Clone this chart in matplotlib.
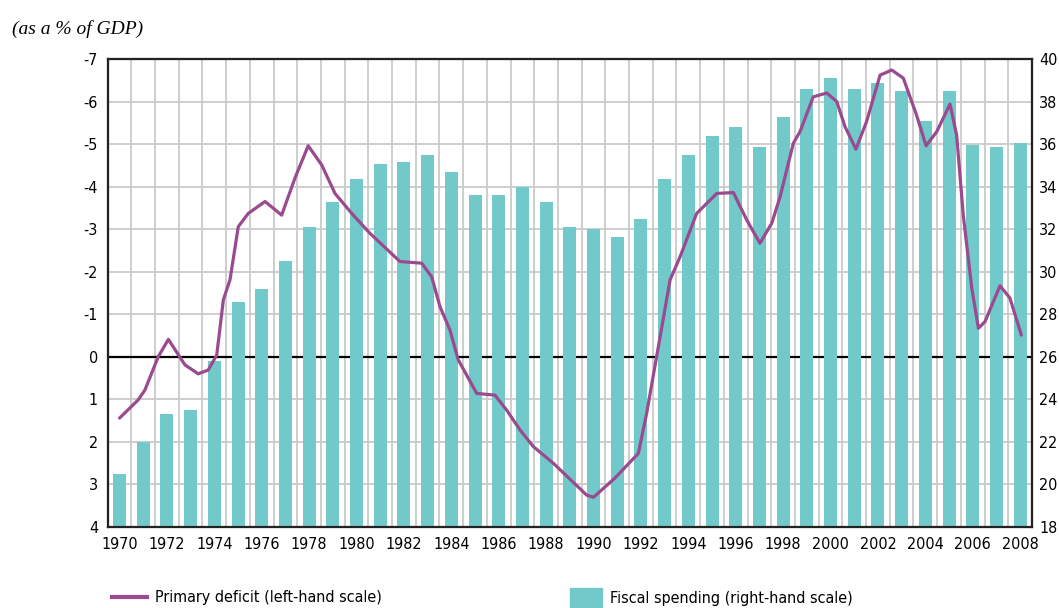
import matplotlib
matplotlib.use('Agg')
import matplotlib.pyplot as plt
from matplotlib.patches import Patch
from matplotlib.lines import Line2D
from matplotlib import font_manager
import numpy as np

years = list(range(1970, 2009))
spending = [20.5, 22.0, 23.3, 23.5, 25.8, 28.6, 29.2, 30.5, 32.1, 33.3,
            34.35, 35.05, 35.15, 35.5, 34.7, 33.6, 33.6, 34.0, 33.3, 32.1,
            32.0, 31.65, 32.5, 34.35, 35.5, 36.4, 36.8, 35.85, 37.25, 38.6,
            39.1, 38.6, 38.85, 38.5, 37.1, 38.5, 35.95, 35.85, 36.05]

# primary deficit curve (fractional year, % of GDP)
deficit_t = [1970.00, 1970.79, 1971.07, 1971.63, 1972.06, 1972.76, 1973.32, 1973.74,
             1974.10, 1974.38, 1974.66, 1975.01, 1975.43, 1976.14, 1976.84, 1977.40,
             1977.96, 1978.53, 1979.09, 1979.30, 1979.86, 1980.57, 1981.83, 1982.75,
             1983.17, 1983.52, 1983.94, 1984.29, 1985.07, 1985.84, 1986.33, 1986.90,
             1987.46, 1988.30, 1989.71, 1990.00, 1990.90, 1991.89, 1992.24, 1992.66,
             1993.23, 1993.65, 1994.35, 1995.20, 1995.90, 1996.46, 1997.02, 1997.52,
             1997.87, 1998.43, 1998.71, 1999.27, 1999.84, 2000.26, 2000.61, 2001.07,
             2001.52, 2002.09, 2002.58, 2003.07, 2003.63, 2004.03, 2004.48, 2005.04,
             2005.32, 2005.60, 2005.96, 2006.24, 2006.52, 2007.15, 2007.57, 2008.05]
deficit_v = [1.44, 1.01, 0.78, 0.00, -0.41, 0.19, 0.40, 0.31,
             -0.04, -1.34, -1.81, -3.06, -3.37, -3.65, -3.33, -4.20,
             -4.96, -4.51, -3.84, -3.70, -3.33, -2.90, -2.24, -2.20,
             -1.88, -1.18, -0.63, 0.07, 0.86, 0.90, 1.25, 1.72,
             2.11, 2.50, 3.25, 3.30, 2.85, 2.27, 1.33, 0.00,
             -1.81, -2.35, -3.37, -3.84, -3.86, -3.22, -2.67, -3.14,
             -3.76, -5.02, -5.29, -6.11, -6.20, -6.00, -5.41, -4.88,
             -5.53, -6.62, -6.74, -6.55, -5.68, -4.96, -5.29, -5.94,
             -5.21, -3.33, -1.61, -0.67, -0.83, -1.67, -1.38, -0.51]

left_ticks = list(range(-7, 5))
right_ticks = list(range(18, 41, 2))
year_labels = years[::2]

bar_color = '#72C9C9'
line_color = '#9A4A8F'
grid_color = '#CACACA'

narrow = font_manager.FontProperties(family='DejaVu Sans', stretch='condensed', size=11.5)
print(font_manager.findfont(narrow))

fig = plt.figure(figsize=(10.59, 6.08), dpi=100)
ax = fig.add_axes([0.1017, 0.1332, 0.8728, 0.7698])

# left scale: grid and zero line
ax.set_xlim(1969.5, 2008.5)
ax.set_ylim(4, -7)
ax.set_yticks(left_ticks)
ax.set_yticklabels([str(v) for v in left_ticks], fontproperties=narrow)
ax.set_xticks(year_labels)
ax.set_xticklabels([str(y) for y in year_labels], fontproperties=narrow)
ax.set_xticks(np.arange(1969.5, 2008.6, 1.0), minor=True)
ax.tick_params(axis='both', which='both', length=0)
ax.tick_params(axis='y', pad=7)
ax.tick_params(axis='x', pad=7)
ax.grid(True, axis='x', which='minor', color=grid_color, lw=1.3)
ax.grid(True, axis='y', which='major', color=grid_color, lw=1.3)
ax.axhline(0, color='black', lw=1.6, zorder=1.5)
ax.set_axisbelow(True)

# right scale: fiscal spending bars
ax2 = ax.twinx()
ax2.bar(years, [s - 18 for s in spending], bottom=18, width=0.55, color=bar_color, zorder=2)
ax2.set_ylim(18, 40)
ax2.set_yticks(right_ticks)
ax2.set_yticklabels([str(v) for v in right_ticks], fontproperties=narrow)
ax2.tick_params(axis='y', length=0, pad=5)

# line on top, left scale
ax3 = ax.twinx()
ax3.plot(deficit_t, deficit_v, color=line_color, lw=2.3, solid_joinstyle='round',
         solid_capstyle='round')
ax3.set_ylim(4, -7)
ax3.set_yticks([])

for a in (ax, ax2, ax3):
    for s in a.spines.values():
        s.set_color('#222222')
        s.set_linewidth(1.5)

fig.text(0.011, 0.953, '(as a % of GDP)', fontsize=14, style='italic',
         family=['Liberation Serif', 'DejaVu Serif'], va='center', ha='left')

leg1 = fig.legend(handles=[Line2D([0], [0], color=line_color, lw=3)],
                  labels=['Primary deficit (left-hand scale)'],
                  loc='center left', bbox_to_anchor=(0.092, 0.017), frameon=False,
                  handlelength=2.2, handletextpad=0.5, prop=narrow)
leg2 = fig.legend(handles=[Patch(color=bar_color)],
                  labels=['Fiscal spending (right-hand scale)'],
                  loc='center left', bbox_to_anchor=(0.525, 0.017), frameon=False,
                  handlelength=2.0, handleheight=1.4, handletextpad=0.5,
                  prop=narrow)

fig.savefig('out.png', dpi=100)
